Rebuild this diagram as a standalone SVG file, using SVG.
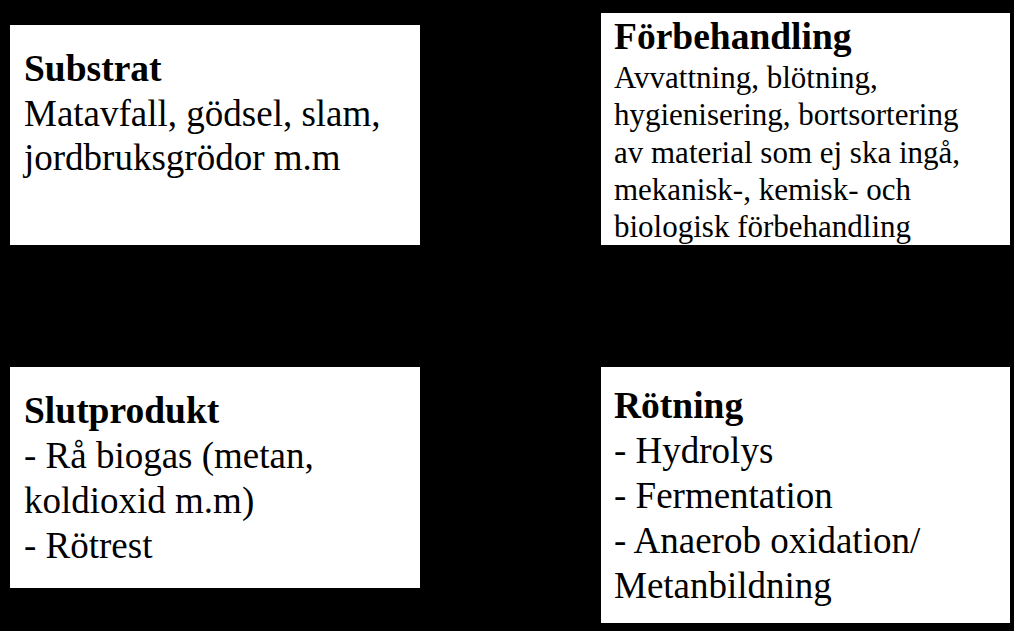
<svg xmlns="http://www.w3.org/2000/svg" width="1014" height="631" viewBox="0 0 1014 631">
<style>
.box{fill:#fff;stroke:none}
text{font-family:"Liberation Serif","Times New Roman",serif;fill:#000}
.t{font-weight:bold;font-size:37.5px}
.b{font-size:37px}
.s{font-size:31px}
</style>
<rect x="0" y="0" width="1014" height="631" fill="#000"/>
<g id="connectors"></g>
<g id="substrat">
<rect class="box" x="10" y="25" width="410" height="220"/>
<text class="t" x="24" y="81">Substrat</text>
<text class="b" x="24" y="126">Matavfall, gödsel, slam,</text>
<text class="b" x="24" y="170">jordbruksgrödor m.m</text>
</g>
<g id="forbehandling">
<rect class="box" x="601" y="13" width="409" height="232"/>
<text class="t" x="614" y="49">Förbehandling</text>
<text class="s" x="614" y="88">Avvattning, blötning,</text>
<text class="s" x="614" y="125">hygienisering, bortsortering</text>
<text class="s" x="614" y="163">av material som ej ska ingå,</text>
<text class="s" x="614" y="200">mekanisk-, kemisk- och</text>
<text class="s" x="614" y="237">biologisk förbehandling</text>
</g>
<g id="slutprodukt">
<rect class="box" x="10" y="367" width="410" height="221"/>
<text class="t" x="24" y="423">Slutprodukt</text>
<text class="b" x="24" y="468">- Rå biogas (metan,</text>
<text class="b" x="24" y="513">koldioxid m.m)</text>
<text class="b" x="24" y="558">- Rötrest</text>
</g>
<g id="rotning">
<rect class="box" x="601" y="367" width="409" height="256"/>
<text class="t" x="614" y="418">Rötning</text>
<text class="b" x="614" y="463">- Hydrolys</text>
<text class="b" x="614" y="508">- Fermentation</text>
<text class="b" x="614" y="553">- Anaerob oxidation/</text>
<text class="b" x="614" y="598">Metanbildning</text>
</g>
</svg>
